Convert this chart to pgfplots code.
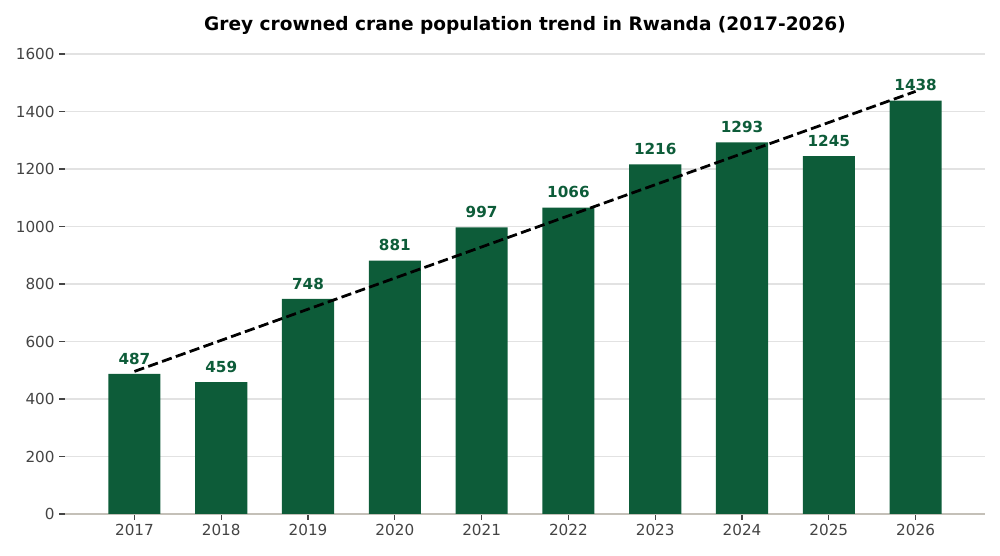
\documentclass[border=0pt]{standalone}
\usepackage{pgfplots}
\pgfplotsset{compat=1.18}
\usepackage{fontspec}
\setmainfont{DejaVu Sans}
\definecolor{barc}{HTML}{0D5C39}
\definecolor{gridc}{HTML}{E2E2E2}
\definecolor{basec}{HTML}{C4C0B8}
\definecolor{tickc}{HTML}{444444}
\pgfplotstableread{
year pop
2017 487
2018 459
2019 748
2020 881
2021 997
2022 1066
2023 1216
2024 1293
2025 1245
2026 1438
}\poptable
\usepackage{pgfplotstable}
\begin{document}
\begin{tikzpicture}
\begin{axis}[
  at={(0,0)}, anchor=south west,
  scale only axis, width=664.9pt, height=332.4pt,
  xmin=2016.2, xmax=2026.8, ymin=0, ymax=1600,
  axis x line*=bottom, axis y line*=left,
  x axis line style={draw=basec, line width=0.9pt, -},
  y axis line style={draw=none},
  xtick={2017,2018,2019,2020,2021,2022,2023,2024,2025,2026},
  xticklabels={2017,2018,2019,2020,2021,2022,2023,2024,2025,2026},
  ytick={0,200,400,600,800,1000,1200,1400,1600},
  /pgf/number format/assume math mode=true,
  /pgf/number format/1000 sep={},
  tick align=outside,
  major tick length=4pt,
  tick style={draw=tickc, line width=0.8pt},
  ticklabel style={font=\fontsize{11}{13}\selectfont, text=tickc},
  ymajorgrids,
  grid style={draw=gridc, line width=0.8pt},
  clip=false,
]
\addplot[ybar, bar width=0.6, fill=barc, draw=none] table[x=year, y=pop] {\poptable};
\addplot[black, line width=2pt, dash pattern=on 7.4pt off 3.2pt] coordinates {
  (2017,495.9) (2026,1470.1)
};
\addplot[draw=none, mark=none,
  nodes near coords,
  nodes near coords style={font=\bfseries\fontsize{11}{13}\selectfont, text=barc, anchor=south, yshift=3.5pt},
] table[x=year, y=pop] {\poptable};
\end{axis}
\node[font=\bfseries\fontsize{13.4}{16}\selectfont, yshift=20.5pt] at (current axis.north) {Grey crowned crane population trend in Rwanda (2017-2026)};
\pgfresetboundingbox
\path[use as bounding box] (-46.98pt,-30.35pt) rectangle (675.72pt,371.45pt);
\end{tikzpicture}
\end{document}
